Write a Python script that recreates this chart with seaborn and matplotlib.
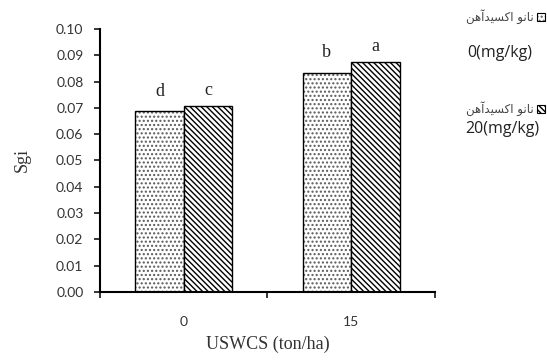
import numpy as np
import pandas as pd
import seaborn as sns
import matplotlib.pyplot as plt
from matplotlib.patches import Rectangle

# data
uswcs = ["0", "0", "15", "15"]
nano = ["0", "20", "0", "20"]
sgi = [0.0688, 0.0708, 0.0834, 0.0876]
letters_0 = ["d", "b"]
letters_20 = ["c", "a"]
yticks = [0.00, 0.01, 0.02, 0.03, 0.04, 0.05, 0.06, 0.07, 0.08, 0.09, 0.10]

# Persian legend text, pre-shaped (presentation forms, visual order)
fa_label = "\uFEE6\uFEEB\uFE81\uFEAA\uFBFF\uFEB4\uFB90\uFE8D \uFEEE\uFEE7\uFE8E\uFEE7"
legend_units = ["0(mg/kg)", "20(mg/kg)"]

df = pd.DataFrame({"USWCS": uswcs, "nano": nano, "Sgi": sgi})

sns.set_style("ticks")
plt.rcParams["hatch.linewidth"] = 1.0

fig = plt.figure(figsize=(5.47, 3.61), dpi=100)
ax = fig.add_axes([0.183, 0.191, 0.612, 0.729])

sns.barplot(data=df, x="USWCS", y="Sgi", hue="nano", palette=["white", "white"],
    edgecolor="black", linewidth=1.0, width=0.58, gap=0, legend=False, ax=ax)

# patterns
dot_color = (0.35, 0.35, 0.35, 1)
for p in ax.containers[0]:
    p.set_hatch("....")
    p._hatch_color = dot_color
for p in ax.containers[1]:
    p.set_hatch("\\\\\\\\\\\\")

ax.bar_label(ax.containers[0], labels=letters_0, padding=8,
    fontsize=13, family="Liberation Serif", color="#222222")
ax.bar_label(ax.containers[1], labels=letters_20, padding=5,
    fontsize=13, family="Liberation Serif", color="#222222")

ax.set_ylim(0, 0.10)
ax.set_yticks(yticks)
ax.set_yticklabels([f"{v:.2f}" for v in yticks], family="Lato", fontsize=10, color="#333333")
ax.set_xlim(-0.5, 1.5)
ax.set_xticks([-0.5, 0.5, 1.5])
ax.set_xticklabels([])
ax.set_xticks([0, 1], minor=True)
ax.set_xticklabels(["0", "15"], minor=True, family="Lato", fontsize=10, color="#333333")
ax.tick_params(axis="x", which="minor", length=0, pad=17)
ax.tick_params(axis="x", which="major", length=4, width=1.3, direction="out")
ax.tick_params(axis="y", length=4, width=1.3, pad=8)

for s in ["left", "bottom"]:
    ax.spines[s].set_linewidth(1.5)
    ax.spines[s].set_color("black")
sns.despine(ax=ax)

ax.set_xlabel("USWCS (ton/ha)", family="Liberation Serif", fontsize=13, color="#333333", labelpad=6)
ax.set_ylabel("Sgi", family="Liberation Serif", fontsize=13, color="#333333", labelpad=18)

# legend drawn by hand (right-to-left layout)
W, H = 547, 361
rows = [(17, 53, "....", dot_color, 500), (109, 129, "\\\\\\\\\\\\", (0, 0, 0, 1), 502)]
for i, (ty, uy, hatch, hc, ux) in enumerate(rows):
    r = Rectangle((537 / W, 1 - (ty + 4) / H), 8 / W, 8 / H, transform=fig.transFigure,
        facecolor="white", edgecolor="black", linewidth=0.8, hatch=hatch)
    r._hatch_color = hc
    fig.patches.append(r)
    fig.text(534 / W, 1 - ty / H, fa_label, ha="right", va="center",
        family="DejaVu Sans", fontsize=8.5, color="#444444")
    fig.text(ux / W, 1 - uy / H, legend_units[i], ha="center", va="center",
        family="Open Sans", fontsize=11.5, color="#222222")

fig.savefig("out.png", dpi=100)
